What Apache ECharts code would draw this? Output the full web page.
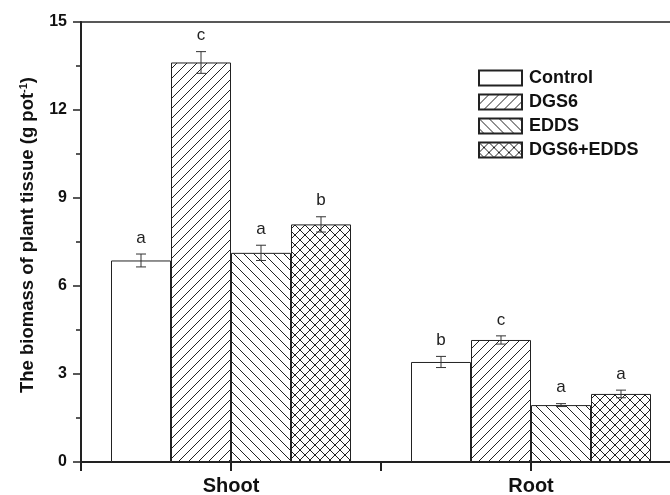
<!DOCTYPE html>
<html>
<head>
<meta charset="utf-8">
<script src="https://cdn.jsdelivr.net/npm/echarts@6/dist/echarts.min.js"></script>
<style>html,body{margin:0;padding:0;background:#fff}#c{width:670px;height:495px}</style>
</head>
<body>
<div id="c"></div>
<script>
var categories = ['Shoot', 'Root'];
var seriesNames = ['Control', 'DGS6', 'EDDS', 'DGS6+EDDS'];
var controlValues = [6.87, 3.41];
var dgs6Values = [13.62, 4.16];
var eddsValues = [7.13, 1.94];
var comboValues = [8.10, 2.32];
var controlErrors = [0.22, 0.19];
var dgs6Errors = [0.37, 0.14];
var eddsErrors = [0.26, 0.05];
var comboErrors = [0.26, 0.13];
var controlLetters = ['a', 'b'];
var dgs6Letters = ['c', 'c'];
var eddsLetters = ['a', 'a'];
var comboLetters = ['b', 'a'];
var yTicks = [0, 3, 6, 9, 12, 15];

var allValues = [controlValues, dgs6Values, eddsValues, comboValues];
var allErrors = [controlErrors, dgs6Errors, eddsErrors, comboErrors];
var allLetters = [controlLetters, dgs6Letters, eddsLetters, comboLetters];

function makePattern(kind) {
  var s = 10;
  var c = document.createElement('canvas');
  c.width = s; c.height = s;
  var ctx = c.getContext('2d');
  ctx.fillStyle = '#fff';
  ctx.fillRect(0, 0, s, s);
  ctx.strokeStyle = '#222';
  ctx.lineWidth = 1;
  ctx.beginPath();
  if (kind === 'fwd' || kind === 'cross') {
    ctx.moveTo(0, s); ctx.lineTo(s, 0);
    ctx.moveTo(-1, 1); ctx.lineTo(1, -1);
    ctx.moveTo(s - 1, s + 1); ctx.lineTo(s + 1, s - 1);
  }
  if (kind === 'back' || kind === 'cross') {
    ctx.moveTo(0, 0); ctx.lineTo(s, s);
    ctx.moveTo(s - 1, -1); ctx.lineTo(s + 1, 1);
    ctx.moveTo(-1, s - 1); ctx.lineTo(1, s + 1);
  }
  ctx.stroke();
  return c;
}
var fills = [
  '#ffffff',
  { image: makePattern('fwd'), repeat: 'repeat' },
  { image: makePattern('back'), repeat: 'repeat' },
  { image: makePattern('cross'), repeat: 'repeat' }
];

var FONT = 'Liberation Sans, Arial, Helvetica, sans-serif';
var nSeries = seriesNames.length;
var catGapRatio = 0.2;

var series = [];
seriesNames.forEach(function (name, i) {
  series.push({
    name: name,
    type: 'bar',
    data: allValues[i],
    barGap: '0%',
    barCategoryGap: '20%',
    itemStyle: { color: fills[i], borderColor: '#222', borderWidth: 1 },
    z: 2
  });
});
seriesNames.forEach(function (name, i) {
  series.push({
    name: name + '_err',
    type: 'custom',
    z: 5,
    data: categories.map(function (c, k) { return [k, allValues[i][k], allErrors[i][k]]; }),
    encode: { x: 0, y: 1 },
    renderItem: function (params, api) {
      var k = api.value(0), v = api.value(1), e = api.value(2);
      var letter = allLetters[i][k];
      var band = api.size([1, 0])[0];
      var bw = band * (1 - catGapRatio) / nSeries;
      var center = api.coord([k, v]);
      var x = center[0] + (i - (nSeries - 1) / 2) * bw;
      var top = api.coord([k, v + e])[1];
      var bot = api.coord([k, v - e])[1];
      var hw = 5;
      var st = { stroke: '#333', lineWidth: 1 };
      return {
        type: 'group',
        children: [
          { type: 'line', shape: { x1: x, y1: top, x2: x, y2: bot }, style: st },
          { type: 'line', shape: { x1: x - hw, y1: top, x2: x + hw, y2: top }, style: st },
          { type: 'line', shape: { x1: x - hw, y1: bot, x2: x + hw, y2: bot }, style: st },
          { type: 'text', style: { text: letter, x: x, y: top - 16, textAlign: 'center', textVerticalAlign: 'middle', font: '17px ' + FONT, fill: '#222' } }
        ]
      };
    }
  });
});

var chart = echarts.init(document.getElementById('c'));
chart.setOption({
  animation: false,
  backgroundColor: '#fff',
  grid: { left: 81, top: 22, bottom: 33, width: 600, outerBoundsMode: 'none', containLabel: false, show: true, borderColor: '#222', borderWidth: 1.5, backgroundColor: 'transparent' },
  legend: {
    data: seriesNames,
    orient: 'vertical',
    left: 473,
    top: 64,
    icon: 'rect',
    itemWidth: 43,
    itemHeight: 15,
    itemGap: 6,
    textStyle: { fontFamily: FONT, fontWeight: 'bold', fontSize: 18, color: '#111', padding: [0, 0, 0, 2] }
  },
  xAxis: [{
    type: 'category',
    data: categories,
    axisLine: { lineStyle: { color: '#222', width: 2 } },
    axisTick: { show: true, length: 9, lineStyle: { color: '#222', width: 2 } },
    axisLabel: { fontFamily: FONT, fontWeight: 'bold', fontSize: 20, color: '#111', margin: 14 }
  }, {
    type: 'category',
    data: categories,
    position: 'bottom',
    axisLine: { show: false },
    axisTick: { show: true, alignWithLabel: true, length: 9, lineStyle: { color: '#222', width: 2 } },
    axisLabel: { show: false }
  }],
  yAxis: {
    type: 'value',
    min: yTicks[0],
    max: yTicks[yTicks.length - 1],
    interval: 3,
    name: '{n|The biomass of plant tissue (g pot}{s|-1}{n|)}',
    nameLocation: 'middle',
    nameGap: 44,
    nameTextStyle: {
      padding: [0, 0, 0, 14],
      rich: {
        n: { fontFamily: FONT, fontWeight: 'bold', fontSize: 18.5, color: '#111' },
        s: { fontFamily: FONT, fontWeight: 'bold', fontSize: 11, color: '#111', verticalAlign: 'top', padding: [0, 0, 8, 0] }
      }
    },
    axisLine: { show: true, lineStyle: { color: '#222', width: 2 } },
    axisTick: { show: true, length: 8, lineStyle: { color: '#222', width: 1.5 } },
    minorTick: { show: true, splitNumber: 2, length: 5, lineStyle: { color: '#222', width: 1.5 } },
    splitLine: { show: false },
    axisLabel: { fontFamily: FONT, fontWeight: 'bold', fontSize: 16, color: '#111', margin: 14 }
  },
  series: series
});
</script>
</body>
</html>
